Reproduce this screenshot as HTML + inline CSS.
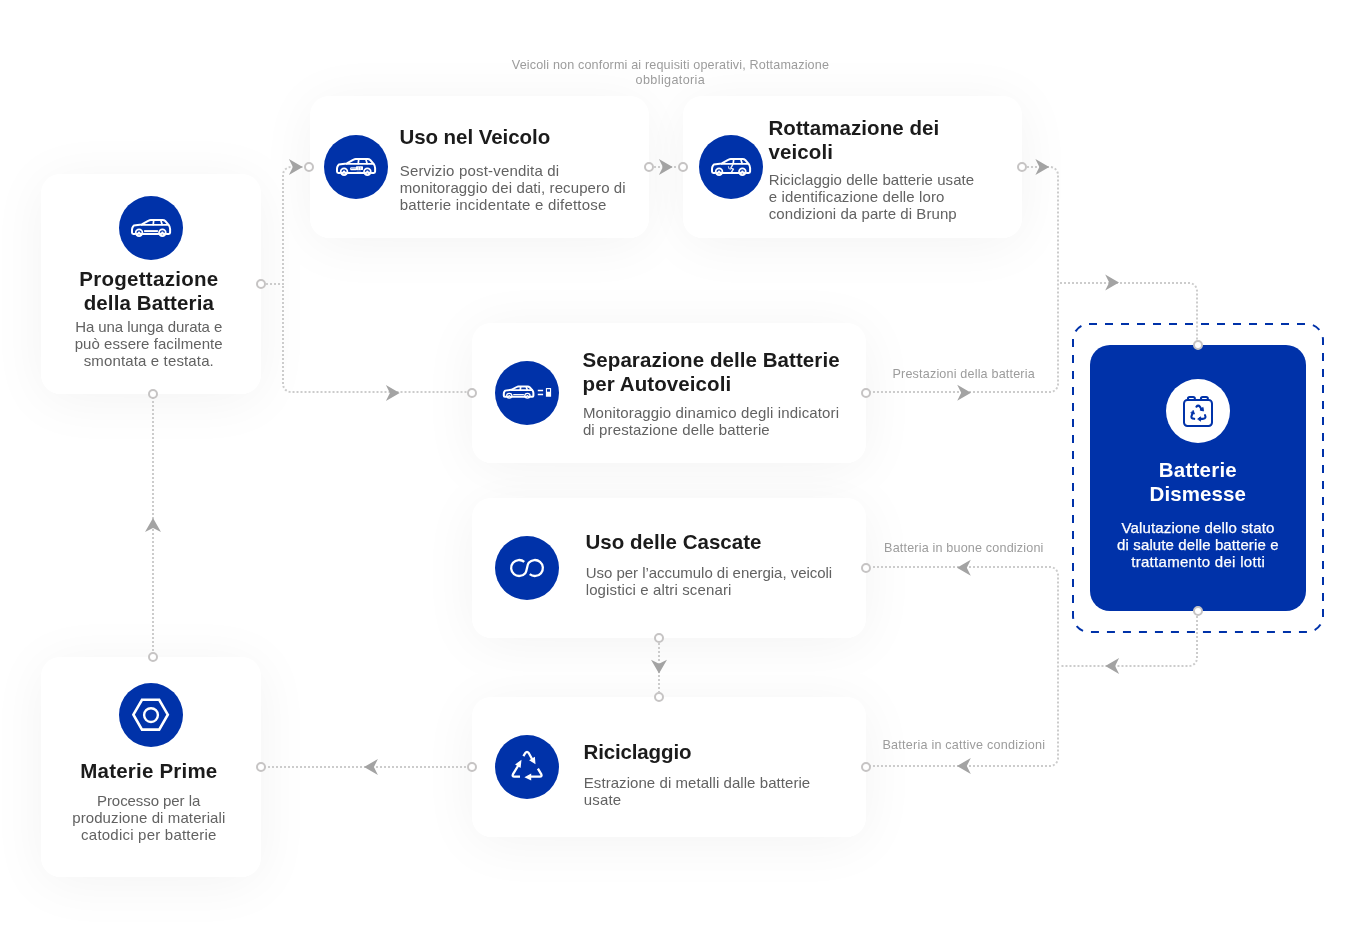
<!DOCTYPE html>
<html lang="it">
<head>
<meta charset="utf-8">
<title>Ciclo di vita della batteria</title>
<style>
*{box-sizing:border-box;margin:0;padding:0}
html,body{width:1360px;height:940px;background:#fff;overflow:hidden}
body{font-family:"Liberation Sans",sans-serif;color:#1a1a1a}
.diagram{position:relative;width:1360px;height:940px;overflow:hidden;will-change:transform}
.shadow{position:absolute;border-radius:20px;box-shadow:0 6px 56px rgba(0,0,0,.05)}
.card{position:absolute;background:#fff;border-radius:20px}
.card.blue{background:#0032a9}
.ic{position:absolute;width:64px;height:64px;border-radius:50%;background:#0032a9}
.blue .ic{background:#fff}
.ic svg{position:absolute;left:0;top:0;width:64px;height:64px;overflow:visible}
h3,p{font:inherit}
.t,.d,.lbl{position:absolute;white-space:nowrap;display:block}
.t{font-weight:700;font-size:20.5px;line-height:24px;color:#1b1b1b}
.d{font-size:15px;line-height:17px;color:#626262}
.lbl{font-size:12.6px;line-height:15px;color:#9c9c9c}
.blue .t,.blue .d{color:#fff}
.blue .d{-webkit-text-stroke:.25px #fff}
.note{position:absolute;left:0;top:0}
#wires{position:absolute;left:0;top:0;width:1360px;height:940px;overflow:visible}

</style>
</head>
<body>
<main class="diagram">
  <div class="shadow" style="left:41px;top:174px;width:220px;height:220px"></div>
  <div class="shadow" style="left:310px;top:96px;width:339px;height:142px"></div>
  <div class="shadow" style="left:683px;top:96px;width:339px;height:142px"></div>
  <div class="shadow" style="left:472px;top:323px;width:394px;height:140px"></div>
  <div class="shadow" style="left:472px;top:498px;width:394px;height:140px"></div>
  <div class="shadow" style="left:472px;top:697px;width:394px;height:140px"></div>
  <div class="shadow" style="left:41px;top:657px;width:220px;height:220px"></div>
  <section class="card" id="c1" style="left:41px;top:174px;width:220px;height:220px">
    <div class="ic" style="left:78px;top:22px"><svg viewBox="0 0 64 64" fill="none" stroke="#fff" stroke-width="1.8" stroke-linecap="round" stroke-linejoin="round"><path d="M16 38H14.4Q13 38 13 36.6V33.8Q13 32 14 30.6L14.8 29.6L22.8 28.4L29.6 24.6Q30.6 24 31.8 24H43.6Q45.2 24 46.2 25L49.4 28.6Q51.1 30.6 51.1 33V36.6Q51.1 38 49.7 38H47.6" stroke-width="2"/><path d="M22.8 28.9H49.4" stroke-width="1.9"/><path d="M34.7 24.4L34.2 28.6M41.9 24.4L43.1 28.6" stroke-width="1.7"/><path d="M23.6 38H39.8" stroke-width="2"/><circle cx="20.05" cy="36.7" r="4.2" fill="#fff" stroke="none"/><path d="M18.150000000000002 36.800000000000004A1.9 1.9 0 0 1 21.95 36.800000000000004" stroke="#0032a9" stroke-width="1.3" stroke-linecap="butt"/><circle cx="20.05" cy="38.6" r="0.8" fill="#0032a9" fill-opacity=".35" stroke="none"/><circle cx="43.4" cy="36.7" r="4.2" fill="#fff" stroke="none"/><path d="M41.5 36.800000000000004A1.9 1.9 0 0 1 45.3 36.800000000000004" stroke="#0032a9" stroke-width="1.3" stroke-linecap="butt"/><circle cx="43.4" cy="38.6" r="0.8" fill="#0032a9" fill-opacity=".35" stroke="none"/><path d="M25.1 35.1H38.9" stroke-width="2" stroke-linecap="butt"/></svg></div>
    <h3><span class="t" style="left:38.2px;top:92.9px;letter-spacing:0.29px">Progettazione</span><span class="t" style="left:42.7px;top:116.9px;letter-spacing:0.11px">della Batteria</span></h3>
    <p><span class="d" style="left:34.2px;top:144.3px;letter-spacing:-0.07px">Ha una lunga durata e</span><span class="d" style="left:33.7px;top:161.3px;letter-spacing:0.06px">può essere facilmente</span><span class="d" style="left:42.7px;top:178.3px;letter-spacing:0.14px">smontata e testata.</span></p>
  </section>
  <section class="card" id="c2" style="left:310px;top:96px;width:339px;height:142px">
    <div class="ic" style="left:14px;top:39px"><svg viewBox="0 0 64 64" fill="none" stroke="#fff" stroke-width="1.8" stroke-linecap="round" stroke-linejoin="round"><path d="M16 38H14.4Q13 38 13 36.6V33.8Q13 32 14 30.6L14.8 29.6L22.8 28.4L29.6 24.6Q30.6 24 31.8 24H43.6Q45.2 24 46.2 25L49.4 28.6Q51.1 30.6 51.1 33V36.6Q51.1 38 49.7 38H47.6" stroke-width="2"/><path d="M22.8 28.9H49.4" stroke-width="1.9"/><path d="M34.7 24.4L34.2 28.6M41.9 24.4L43.1 28.6" stroke-width="1.7"/><path d="M23.6 38H39.8" stroke-width="2"/><circle cx="20.05" cy="36.7" r="4.2" fill="#fff" stroke="none"/><path d="M18.150000000000002 36.800000000000004A1.9 1.9 0 0 1 21.95 36.800000000000004" stroke="#0032a9" stroke-width="1.3" stroke-linecap="butt"/><circle cx="20.05" cy="38.6" r="0.8" fill="#0032a9" fill-opacity=".35" stroke="none"/><circle cx="43.4" cy="36.7" r="4.2" fill="#fff" stroke="none"/><path d="M41.5 36.800000000000004A1.9 1.9 0 0 1 45.3 36.800000000000004" stroke="#0032a9" stroke-width="1.3" stroke-linecap="butt"/><circle cx="43.4" cy="38.6" r="0.8" fill="#0032a9" fill-opacity=".35" stroke="none"/><rect x="26.2" y="32.3" width="6.6" height="3" rx="1" fill="#fff" stroke="none"/><rect x="32" y="31.3" width="7" height="3.7" rx="0.4" fill="#fff" stroke="none"/><path d="M27.4 33.3H31.4" stroke="#0032a9" stroke-width="0.7" stroke-opacity=".6"/><path d="M34.4 32.3V34.3M36.6 32.3V34.3" stroke="#0032a9" stroke-width="0.7" stroke-opacity=".35"/><path d="M33 36H36.4" stroke="#fff" stroke-width="0.8" stroke-opacity=".6"/></svg></div>
    <h3><span class="t" style="left:89.4px;top:28.9px;letter-spacing:-0.05px">Uso nel Veicolo</span></h3>
    <p><span class="d" style="left:89.7px;top:66.3px;letter-spacing:0.19px">Servizio post-vendita di</span><span class="d" style="left:89.7px;top:83.3px;letter-spacing:0.1px">monitoraggio dei dati, recupero di</span><span class="d" style="left:89.7px;top:100.3px;letter-spacing:0.21px">batterie incidentate e difettose</span></p>
  </section>
  <section class="card" id="c3" style="left:683px;top:96px;width:339px;height:142px">
    <div class="ic" style="left:16px;top:39px"><svg viewBox="0 0 64 64" fill="none" stroke="#fff" stroke-width="1.8" stroke-linecap="round" stroke-linejoin="round"><path d="M16 38H14.4Q13 38 13 36.6V33.8Q13 32 14 30.6L14.8 29.6L22.8 28.4L29.6 24.6Q30.6 24 31.8 24H43.6Q45.2 24 46.2 25L49.4 28.6Q51.1 30.6 51.1 33V36.6Q51.1 38 49.7 38H47.6" stroke-width="2"/><path d="M22.8 28.9H49.4" stroke-width="1.9"/><path d="M34.7 24.4L34.2 28.6M41.9 24.4L43.1 28.6" stroke-width="1.7"/><path d="M23.6 38H39.8" stroke-width="2"/><circle cx="20.05" cy="36.7" r="4.2" fill="#fff" stroke="none"/><path d="M18.150000000000002 36.800000000000004A1.9 1.9 0 0 1 21.95 36.800000000000004" stroke="#0032a9" stroke-width="1.3" stroke-linecap="butt"/><circle cx="20.05" cy="38.6" r="0.8" fill="#0032a9" fill-opacity=".35" stroke="none"/><circle cx="43.4" cy="36.7" r="4.2" fill="#fff" stroke="none"/><path d="M41.5 36.800000000000004A1.9 1.9 0 0 1 45.3 36.800000000000004" stroke="#0032a9" stroke-width="1.3" stroke-linecap="butt"/><circle cx="43.4" cy="38.6" r="0.8" fill="#0032a9" fill-opacity=".35" stroke="none"/><path d="M33.6 29.8L31.8 33.2L34.4 34.2L32.6 37" stroke-width="1.4" stroke-opacity=".9"/><path d="M29.4 31.6L30 33.6L31.6 34.2" stroke-width="1.1" stroke-opacity=".75"/></svg></div>
    <h3><span class="t" style="left:85.5px;top:19.9px;letter-spacing:0.07px">Rottamazione dei</span><span class="t" style="left:85.5px;top:43.9px;letter-spacing:0.1px">veicoli</span></h3>
    <p><span class="d" style="left:85.8px;top:75.3px;letter-spacing:0.06px">Riciclaggio delle batterie usate</span><span class="d" style="left:85.8px;top:92.3px;letter-spacing:0.11px">e identificazione delle loro</span><span class="d" style="left:85.8px;top:109.3px;letter-spacing:0.07px">condizioni da parte di Brunp</span></p>
  </section>
  <section class="card" id="c4" style="left:472px;top:323px;width:394px;height:140px">
    <div class="ic" style="left:23px;top:38px"><svg viewBox="0 0 64 64" fill="none" stroke="#fff" stroke-width="1.8" stroke-linecap="round" stroke-linejoin="round"><g transform="translate(-1.29 8.0) scale(0.7766 0.73)"><path d="M16 38H14.4Q13 38 13 36.6V33.8Q13 32 14 30.6L14.8 29.6L22.8 28.4L29.6 24.6Q30.6 24 31.8 24H43.6Q45.2 24 46.2 25L49.4 28.6Q51.1 30.6 51.1 33V36.6Q51.1 38 49.7 38H47.6" stroke-width="2.6"/><path d="M22.8 28.9H49.4" stroke-width="2.5"/><path d="M34.7 24.4L34.2 28.6M41.9 24.4L43.1 28.6" stroke-width="2.2"/><path d="M23.6 38H39.8" stroke-width="2.6"/><circle cx="20.05" cy="36.7" r="4.2" fill="#fff" stroke="none"/><path d="M18.150000000000002 36.800000000000004A1.9 1.9 0 0 1 21.95 36.800000000000004" stroke="#0032a9" stroke-width="1.3" stroke-linecap="butt"/><circle cx="20.05" cy="38.6" r="0.8" fill="#0032a9" fill-opacity=".35" stroke="none"/><circle cx="43.4" cy="36.7" r="4.2" fill="#fff" stroke="none"/><path d="M41.5 36.800000000000004A1.9 1.9 0 0 1 45.3 36.800000000000004" stroke="#0032a9" stroke-width="1.3" stroke-linecap="butt"/><circle cx="43.4" cy="38.6" r="0.8" fill="#0032a9" fill-opacity=".35" stroke="none"/><path d="M25.1 35.1H38.9" stroke-width="1.6" stroke-linecap="butt"/></g><path d="M42.8 29.5H48.1M42.8 33.5H48.1" stroke-width="1.4" stroke-linecap="butt"/><rect x="50.9" y="26.9" width="5.2" height="8.9" rx="0.4" fill="#fff" stroke="none"/><rect x="52" y="28.2" width="3" height="2.5" fill="#0032a9" stroke="none"/></svg></div>
    <h3><span class="t" style="left:110.6px;top:24.9px;letter-spacing:0.07px">Separazione delle Batterie</span><span class="t" style="left:110.6px;top:48.9px;letter-spacing:0.09px">per Autoveicoli</span></h3>
    <p><span class="d" style="left:110.9px;top:81.3px;letter-spacing:0.14px">Monitoraggio dinamico degli indicatori</span><span class="d" style="left:110.9px;top:98.3px;letter-spacing:0.12px">di prestazione delle batterie</span></p>
  </section>
  <section class="card" id="c5" style="left:472px;top:498px;width:394px;height:140px">
    <div class="ic" style="left:23px;top:38px"><svg viewBox="0 0 64 64" fill="none" stroke="#fff" stroke-width="1.8" stroke-linecap="round" stroke-linejoin="round"><path d="M29.27 25.87A8 8 0 1 0 30.26 37.14C32.19 34.84 31.81 29.16 33.74 26.86A8 8 0 1 1 34.73 38.13" stroke-width="2.3" stroke-linecap="butt"/></svg></div>
    <h3><span class="t" style="left:113.4px;top:31.9px;letter-spacing:0.04px">Uso delle Cascate</span></h3>
    <p><span class="d" style="left:113.7px;top:66.3px;letter-spacing:-0.03px">Uso per l’accumulo di energia, veicoli</span><span class="d" style="left:113.7px;top:83.3px;letter-spacing:0.13px">logistici e altri scenari</span></p>
  </section>
  <section class="card" id="c6" style="left:472px;top:697px;width:394px;height:140px">
    <div class="ic" style="left:23px;top:38px"><svg viewBox="0 0 64 64" fill="none" stroke="#fff" stroke-width="1.8" stroke-linecap="round" stroke-linejoin="round"><g stroke-width="2.3" stroke-linecap="butt"><path d="M28.4 21.1L30.3 18Q32 15.7 33.7 18L37.2 24.2"/><path d="M42.9 33.7L46.2 39.1Q47.4 41.6 44.8 41.6H35.8"/><path d="M25 41.6H19.4Q16.8 41.6 18 39.2L23.6 30"/></g><path d="M39.9 21.8L40.5 29.2L34.1 25.2ZM29.4 42.2L36.2 38.6V45.6ZM26.5 24.8L20.1 29.4L25.6 32.9Z" fill="#fff" stroke="none"/></svg></div>
    <h3><span class="t" style="left:111.5px;top:42.9px;letter-spacing:-0.14px">Riciclaggio</span></h3>
    <p><span class="d" style="left:111.8px;top:77.3px;letter-spacing:0.06px">Estrazione di metalli dalle batterie</span><span class="d" style="left:111.8px;top:94.3px;letter-spacing:0.16px">usate</span></p>
  </section>
  <section class="card" id="c7" style="left:41px;top:657px;width:220px;height:220px">
    <div class="ic" style="left:78px;top:26px"><svg viewBox="0 0 64 64" fill="none" stroke="#fff" stroke-width="1.8" stroke-linecap="round" stroke-linejoin="round"><path d="M14.4 31.7L23 16.8H40.2L48.8 31.7L40.2 46.6H23Z" stroke-width="2.6" stroke-linejoin="miter"/><circle cx="32" cy="32.1" r="6.9" stroke-width="2.4"/></svg></div>
    <h3><span class="t" style="left:39.3px;top:101.9px;letter-spacing:0.21px">Materie Prime</span></h3>
    <p><span class="d" style="left:56.0px;top:135.3px;letter-spacing:-0.07px">Processo per la</span><span class="d" style="left:31.2px;top:152.3px;letter-spacing:0.1px">produzione di materiali</span><span class="d" style="left:40.1px;top:169.3px;letter-spacing:0.22px">catodici per batterie</span></p>
  </section>
  <section class="card blue" id="cb" style="left:1090px;top:345px;width:216px;height:266px">
    <div class="ic" style="left:76px;top:34px"><svg viewBox="0 0 64 64" fill="none" stroke="#0032a9" stroke-width="1.8" stroke-linecap="round" stroke-linejoin="round"><rect x="18" y="21" width="28" height="26" rx="3.4" stroke-width="2"/><path d="M21.9 20.6V19.9A1.8 1.8 0 0 1 23.7 18.1H27.1A1.8 1.8 0 0 1 28.9 19.9V20.6M34.9 20.6V19.9A1.8 1.8 0 0 1 36.7 18.1H40.1A1.8 1.8 0 0 1 41.9 19.9V20.6" stroke-width="2"/><g transform="translate(32.4 34) scale(1.1) translate(-32.4 -33.3)"><g stroke-width="1.9"><path d="M30.6 27.6Q32.2 25.6 33.8 27.6L35.6 30.4"/><path d="M38.4 35.2Q39.8 38.2 36.8 38.6H33.4"/><path d="M28.6 38.6Q25 38.4 26.4 35.4L27.4 33"/></g><path d="M36.8 31.4L33.8 30.6L36.4 28.4Z M32 38.6L34.4 36.8V40.4Z M27.8 31.2L28.8 34.2L25.8 33.4Z" fill="#0032a9" stroke-width="0.8"/></g></svg></div>
    <h3><span class="t" style="left:68.7px;top:112.9px;letter-spacing:0.25px">Batterie</span><span class="t" style="left:59.5px;top:136.9px;letter-spacing:0.11px">Dismesse</span></h3>
    <p><span class="d" style="left:31.6px;top:174.3px;letter-spacing:0.13px">Valutazione dello stato</span><span class="d" style="left:27.1px;top:191.3px;letter-spacing:0.12px">di salute delle batterie e</span><span class="d" style="left:41.2px;top:208.3px;letter-spacing:0.3px">trattamento dei lotti</span></p>
  </section>
  <div class="note"><span class="lbl" style="left:511.8px;top:58.1px;letter-spacing:0.15px">Veicoli non conformi ai requisiti operativi, Rottamazione</span><span class="lbl" style="left:635.6px;top:73.1px;letter-spacing:0.37px">obbligatoria</span></div>
  <div class="note"><span class="lbl" style="left:892.5px;top:367.1px;letter-spacing:0.17px">Prestazioni della batteria</span></div>
  <div class="note"><span class="lbl" style="left:884.1px;top:541.1px;letter-spacing:0.17px">Batteria in buone condizioni</span></div>
  <div class="note"><span class="lbl" style="left:882.5px;top:738.1px;letter-spacing:0.22px">Batteria in cattive condizioni</span></div>
<svg id="wires" viewBox="0 0 1360 940">
<rect x="1073" y="324" width="250" height="308" rx="16" fill="none" stroke="#0032a9" stroke-width="2" stroke-dasharray="8 8"/>
<g fill="none" stroke="#cccccc" stroke-width="2" stroke-dasharray="2 2">
<path d="M262 284H283V175A8 8 0 0 1 291 167H304"/>
<path d="M283 286V384A8 8 0 0 0 291 392H468"/>
<path d="M654 167H678"/>
<path d="M1027 167H1050A8 8 0 0 1 1058 175V384A8 8 0 0 1 1050 392H870"/>
<path d="M1060 283H1189A8 8 0 0 1 1197 291V340"/>
<path d="M1197 616V658A8 8 0 0 1 1189 666H1060"/>
<path d="M873 567H1050A8 8 0 0 1 1058 575V758A8 8 0 0 1 1050 766H870"/>
<path d="M659 643V692"/>
<path d="M264 767H468"/>
<path d="M153 397V652"/>
</g>
<path d="M7 0L-6.8 -8L-2.8 0L-6.8 8Z" transform="translate(295.7 167) rotate(0)" fill="#a3a3a3" stroke="none"/>
<path d="M7 0L-6.8 -8L-2.8 0L-6.8 8Z" transform="translate(392.7 393) rotate(0)" fill="#a3a3a3" stroke="none"/>
<path d="M7 0L-6.8 -8L-2.8 0L-6.8 8Z" transform="translate(665.7 167) rotate(0)" fill="#a3a3a3" stroke="none"/>
<path d="M7 0L-6.8 -8L-2.8 0L-6.8 8Z" transform="translate(1042.2 167) rotate(0)" fill="#a3a3a3" stroke="none"/>
<path d="M7 0L-6.8 -8L-2.8 0L-6.8 8Z" transform="translate(1112 282.5) rotate(0)" fill="#a3a3a3" stroke="none"/>
<path d="M7 0L-6.8 -8L-2.8 0L-6.8 8Z" transform="translate(964 392.7) rotate(0)" fill="#a3a3a3" stroke="none"/>
<path d="M7 0L-6.8 -8L-2.8 0L-6.8 8Z" transform="translate(1112.3 666) rotate(180)" fill="#a3a3a3" stroke="none"/>
<path d="M7 0L-6.8 -8L-2.8 0L-6.8 8Z" transform="translate(964 567.7) rotate(180)" fill="#a3a3a3" stroke="none"/>
<path d="M7 0L-6.8 -8L-2.8 0L-6.8 8Z" transform="translate(964 766) rotate(180)" fill="#a3a3a3" stroke="none"/>
<path d="M7 0L-6.8 -8L-2.8 0L-6.8 8Z" transform="translate(659 666.6) rotate(90)" fill="#a3a3a3" stroke="none"/>
<path d="M7 0L-6.8 -8L-2.8 0L-6.8 8Z" transform="translate(371.1 767) rotate(180)" fill="#a3a3a3" stroke="none"/>
<path d="M7 0L-6.8 -8L-2.8 0L-6.8 8Z" transform="translate(153 525.1) rotate(270)" fill="#a3a3a3" stroke="none"/>
<circle cx="261" cy="284" r="4" fill="#fff" stroke="#c6c4c4" stroke-width="2"/>
<circle cx="309" cy="167" r="4" fill="#fff" stroke="#c6c4c4" stroke-width="2"/>
<circle cx="472" cy="393" r="4" fill="#fff" stroke="#c6c4c4" stroke-width="2"/>
<circle cx="649" cy="167" r="4" fill="#fff" stroke="#c6c4c4" stroke-width="2"/>
<circle cx="683" cy="167" r="4" fill="#fff" stroke="#c6c4c4" stroke-width="2"/>
<circle cx="1022" cy="167" r="4" fill="#fff" stroke="#c6c4c4" stroke-width="2"/>
<circle cx="866" cy="393" r="4" fill="#fff" stroke="#c6c4c4" stroke-width="2"/>
<circle cx="1198" cy="345" r="4" fill="#fff" stroke="#c6c4c4" stroke-width="2"/>
<circle cx="1198" cy="611" r="4" fill="#fff" stroke="#c6c4c4" stroke-width="2"/>
<circle cx="866" cy="568" r="4" fill="#fff" stroke="#c6c4c4" stroke-width="2"/>
<circle cx="866" cy="767" r="4" fill="#fff" stroke="#c6c4c4" stroke-width="2"/>
<circle cx="659" cy="638" r="4" fill="#fff" stroke="#c6c4c4" stroke-width="2"/>
<circle cx="659" cy="697" r="4" fill="#fff" stroke="#c6c4c4" stroke-width="2"/>
<circle cx="472" cy="767" r="4" fill="#fff" stroke="#c6c4c4" stroke-width="2"/>
<circle cx="261" cy="767" r="4" fill="#fff" stroke="#c6c4c4" stroke-width="2"/>
<circle cx="153" cy="657" r="4" fill="#fff" stroke="#c6c4c4" stroke-width="2"/>
<circle cx="153" cy="394" r="4" fill="#fff" stroke="#c6c4c4" stroke-width="2"/>
</svg>
</main>
</body>
</html>
